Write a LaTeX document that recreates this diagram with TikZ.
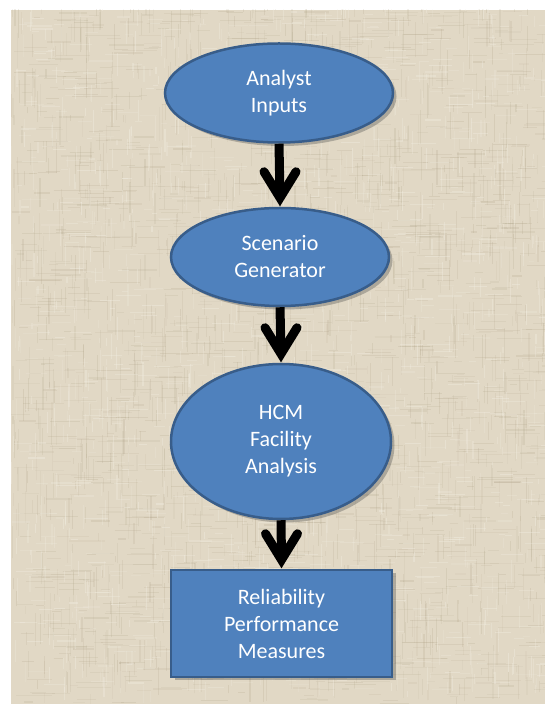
\documentclass[tikz,border=0pt]{standalone}
\usepackage{fontspec}
\setmainfont{Carlito}
\usetikzlibrary{shapes.geometric,shadows,calc}
\definecolor{boxfill}{RGB}{79,129,189}
\definecolor{boxline}{RGB}{56,93,138}
\definecolor{linen}{RGB}{225,216,197}
\definecolor{linendark}{RGB}{170,158,130}
\definecolor{linenlight}{RGB}{242,238,226}

\begin{document}
\begin{tikzpicture}[x=1pt,y=1pt,
  stage/.style={draw=boxline, line width=2.5pt, fill=boxfill, text=white,
    align=center, font=\fontsize{22}{27}\selectfont, inner sep=0pt,
    drop shadow={shadow xshift=3.5pt, shadow yshift=-3.5pt, opacity=0.35, fill=black!70}},
  oval/.style={stage, ellipse},
  panel/.style={stage, rectangle},
  shaft/.style={line width=9pt, line cap=butt},
  vhead/.style={line width=9pt, line cap=round, line join=miter}]

% page and fine linen backdrop
\useasboundingbox (0,0) rectangle (545,704);
\fill[white] (0,0) rectangle (545,704);
\fill[linen] (11,0) rectangle (545,694);
\begin{scope}
  \clip (11,0) rectangle (545,694);
  \pgfmathsetseed{4242}
  \foreach \k in {1,...,1400}{
    \pgfmathsetmacro{\xa}{11+534*rnd}
    \pgfmathsetmacro{\ya}{694*rnd}
    \pgfmathsetmacro{\len}{6+30*rnd}
    \pgfmathsetmacro{\op}{0.07+0.13*rnd}
    \pgfmathsetmacro{\lw}{0.5+1.0*rnd}
    \draw[linendark, opacity=\op, line width=\lw] (\xa,\ya) -- ++(0,\len);
  }
  \foreach \k in {1,...,1400}{
    \pgfmathsetmacro{\xa}{11+534*rnd}
    \pgfmathsetmacro{\ya}{694*rnd}
    \pgfmathsetmacro{\len}{6+30*rnd}
    \pgfmathsetmacro{\op}{0.07+0.13*rnd}
    \pgfmathsetmacro{\lw}{0.5+1.0*rnd}
    \draw[linendark, opacity=\op, line width=\lw] (\xa,\ya) -- ++(\len,0);
  }
  \foreach \k in {1,...,900}{
    \pgfmathsetmacro{\xa}{11+534*rnd}
    \pgfmathsetmacro{\ya}{694*rnd}
    \pgfmathsetmacro{\len}{5+20*rnd}
    \pgfmathsetmacro{\op}{0.15+0.25*rnd}
    \pgfmathsetmacro{\lw}{0.5+0.9*rnd}
    \draw[linenlight, opacity=\op, line width=\lw] (\xa,\ya) -- ++(0,\len);
    \draw[linenlight, opacity=\op, line width=\lw] (\ya*0.78+11,\xa*1.27) -- ++(\len,0);
  }
\end{scope}

% flow stages
\node[oval, minimum width=228pt, minimum height=99pt] (inputs) at (279,611) {Analyst\\Inputs};
\node[oval, minimum width=218pt, minimum height=98pt] (scen) at (280,447) {Scenario\\Generator};
\node[oval, minimum width=220pt, minimum height=155pt] (hcm) at (281,262.5) {HCM\\Facility\\Analysis};
\node[panel, minimum width=221pt, minimum height=107pt] (rel) at (281.5,80.5) {Reliability\\Performance\\Measures};

% thick connectors with open V heads
\foreach \a/\b in {inputs/scen, scen/hcm, hcm/rel}{
  \draw[shaft] (\a.south) -- ($(\b.north)+(0,9)$);
  \draw[vhead] ($(\b.north)+(-16,35)$) -- ($(\b.north)+(0,9)$) -- ($(\b.north)+(16,35)$);
}
\end{tikzpicture}
\end{document}
